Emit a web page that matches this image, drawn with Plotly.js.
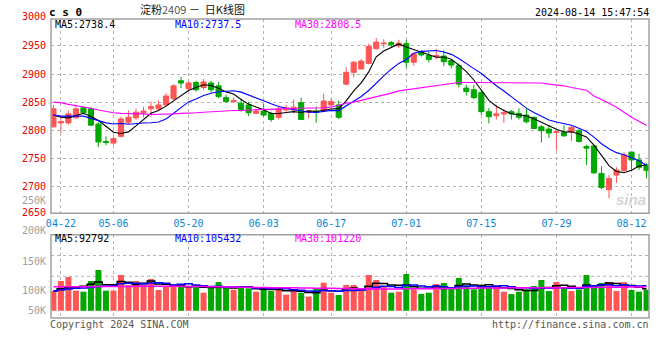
<!DOCTYPE html>
<html><head><meta charset="utf-8">
<script src="https://cdn.plot.ly/plotly-3.0.1.min.js"></script>
<style>html,body{margin:0;padding:0;background:#fff;}#chart{width:660px;height:360px;}</style>
</head><body><div id="chart"></div>
<script>
const dates = ['04-19','04-22','04-23','04-24','04-25','04-26','04-29','04-30','05-06','05-07',
'05-08','05-09','05-10','05-13','05-14','05-15','05-16','05-17','05-20','05-21',
'05-22','05-23','05-24','05-27','05-28','05-29','05-30','05-31','06-03','06-04',
'06-05','06-06','06-07','06-11','06-12','06-13','06-14','06-17','06-18','06-19',
'06-20','06-21','06-24','06-25','06-26','06-27','06-28','07-01','07-02','07-03',
'07-04','07-05','07-08','07-09','07-10','07-11','07-12','07-15','07-16','07-17',
'07-18','07-19','07-22','07-23','07-24','07-25','07-26','07-29','07-30','07-31',
'08-01','08-02','08-05','08-06','08-07','08-08','08-09','08-12','08-13','08-14'];

const open = [2806,2813,2813,2822,2840,2838,2811,2780,2777,2789,
2814,2822,2831,2838,2838,2845,2856,2888,2874,2885,
2876,2884,2879,2858,2851,2848,2845,2830,2834,2830,
2823,2836,2836,2849,2832,2834,2834,2845,2845,2882,
2903,2909,2919,2945,2954,2956,2950,2954,2921,2939,
2933,2931,2932,2924,2915,2875,2872,2867,2833,2826,
2829,2833,2830,2827,2823,2806,2802,2796,2796,2797,
2799,2771,2772,2723,2694,2720,2728,2761,2747,2738];
const high = [2845,2823,2835,2843,2841,2841,2814,2789,2789,2824,
2835,2839,2842,2851,2853,2866,2882,2895,2887,2888,
2891,2888,2886,2863,2858,2856,2851,2838,2847,2833,
2842,2845,2855,2858,2836,2842,2865,2856,2853,2912,
2923,2927,2954,2964,2962,2959,2961,2961,2937,2943,
2940,2945,2942,2926,2919,2881,2881,2872,2839,2845,
2837,2836,2839,2839,2824,2809,2809,2798,2809,2808,
2803,2774,2774,2736,2720,2734,2761,2761,2758,2741];
const low = [2805,2795,2810,2820,2828,2808,2770,2773,2774,2787,
2811,2818,2823,2824,2836,2843,2854,2875,2871,2869,
2872,2867,2857,2849,2849,2833,2825,2829,2824,2815,
2819,2833,2830,2818,2821,2813,2833,2841,2820,2880,
2894,2908,2917,2944,2946,2947,2947,2911,2915,2931,
2921,2926,2914,2910,2876,2862,2855,2827,2812,2819,
2813,2819,2819,2812,2802,2778,2786,2764,2788,2781,
2778,2738,2722,2695,2679,2706,2726,2730,2729,2714];
const close = [2838,2815,2829,2838,2831,2809,2779,2778,2785,2820,
2823,2832,2834,2842,2845,2861,2879,2884,2884,2872,
2886,2872,2860,2851,2853,2837,2831,2834,2827,2819,
2838,2840,2841,2819,2834,2832,2852,2851,2823,2903,
2921,2923,2949,2957,2955,2952,2955,2921,2936,2934,
2926,2933,2922,2916,2882,2869,2858,2833,2824,2829,
2831,2829,2823,2815,2803,2799,2795,2797,2790,2805,
2780,2768,2724,2698,2714,2729,2756,2747,2734,2728];

const ma5 = [2827,2823,2822,2826,2830.2,2824.4,2817.2,2807.0,2796.4,2794.2,
2797.0,2807.6,2818.8,2830.2,2835.2,2842.8,2852.2,2862.2,2870.6,2876.0,
2881.0,2879.6,2874.8,2868.2,2864.4,2854.6,2846.4,2841.2,2836.4,2829.6,
2829.8,2831.6,2833.0,2831.4,2834.4,2833.2,2835.6,2837.6,2838.4,2852.2,
2870.0,2884.2,2903.8,2930.6,2941.0,2947.2,2953.6,2948.0,2943.8,2939.6,
2934.4,2930.0,2930.2,2926.2,2915.8,2904.4,2889.4,2871.6,2853.2,2842.6,
2835.0,2829.2,2827.2,2825.4,2820.2,2813.8,2807.0,2801.8,2796.8,2797.2,
2793.4,2788.0,2773.4,2755.0,2736.8,2726.6,2724.2,2728.8,2736.0,2738.4];
const ma10 = [2827,2825,2825,2825,2825,2821,2817,2813,2811,2812.2,
2810.7,2812.4,2812.9,2813.3,2814.7,2819.9,2829.9,2840.5,2850.4,2855.6,
2861.9,2865.9,2868.5,2869.4,2870.2,2867.8,2863.0,2858.0,2852.3,2847.0,
2842.2,2839.0,2837.1,2833.9,2832.0,2831.5,2833.6,2835.3,2834.9,2843.3,
2851.6,2859.9,2870.7,2884.5,2896.6,2908.6,2918.9,2925.9,2937.2,2940.3,
2940.8,2941.8,2939.1,2935.0,2927.7,2919.4,2909.7,2900.9,2889.7,2879.2,
2869.7,2859.3,2849.4,2839.3,2831.4,2824.4,2818.1,2814.5,2811.1,2808.7,
2803.6,2797.5,2787.6,2775.9,2767.0,2760.0,2756.1,2751.1,2745.5,2737.5];
const ma30 = [2850,2849,2846,2844,2841,2839,2836,2833,2831,2830,
2830,2830,2829,2828,2828,2829,2829,2830,2830,2831,
2832,2833,2834,2834,2835,2835,2836,2836,2837,2837,
2838,2838,2839,2839,2839,2840,2840,2841,2845,2848,
2850,2853,2856,2859,2862,2866,2870,2872,2874,2875,
2877,2879,2881,2883,2885,2885,2885,2885,2885,2885,
2885,2885,2885,2885,2885,2884,2882,2881,2879,2876,
2874,2871,2861,2855,2848,2841,2832,2823,2816,2808.5];

const volume = [83700,126000,142900,85200,80900,126000,172600,85200,85200,151300,
109100,126000,109100,134400,88000,104900,102000,113300,102000,102000,
76600,96400,121700,96400,89300,104900,95000,80900,88000,83700,
100600,68200,83700,76600,59800,93600,118900,76600,66800,109100,
109100,83700,151300,130300,102000,76600,80900,155600,90800,71000,
76600,113300,117600,90800,138700,107700,90800,107700,104900,104900,
80900,71000,80900,90800,104900,130300,83700,121700,100600,83700,
90800,151300,104900,117600,121700,83700,121700,88000,80900,89300];
const volMa5 = [85000,93000,98000,99000,103700,112200,121500,110000,110000,124100,
120700,111400,116100,126000,113300,112500,107700,108500,102000,104800,
99200,98100,99700,98600,96100,101700,101500,93300,91600,90500,
89600,84300,84800,82600,77800,76400,86500,85100,83100,93000,
96100,89100,104000,116700,115300,108800,108200,109100,101200,95000,
95000,101500,93900,93900,107400,113600,109100,107100,110000,103200,
97800,93900,88500,85700,85700,95600,98100,106300,108200,104000,
96100,109600,106300,109700,117300,115800,109900,106500,99200,92792];
const volMa10 = [84000,88000,92000,95000,96000,99000,103000,104000,106000,113900,
116400,116400,113100,118000,118700,116600,109500,112300,114000,109100,
105800,102900,104100,100300,100500,100500,99800,96500,95100,93300,
95700,92900,89100,87100,84100,83000,85400,85000,82900,85400,
86200,87800,94600,99900,104100,102400,98600,106500,108900,105100,
101900,104800,101500,97500,101200,104300,105300,100500,101900,105300,
105700,101500,97800,97800,94500,96700,96000,97400,97000,94900,
95800,103900,106300,109000,110600,106000,109800,106400,104400,105432];
const volMa30 = [102000,102000,102000,102000,102000,102000,103000,103000,103000,103000,
103000,104000,104000,104000,104000,104000,104000,104000,103000,103000,
103000,102000,102000,101000,101000,100000,100000,99000,99000,98000,
98000,97000,97000,96000,96000,95000,95000,95000,94000,94000,
93000,93000,93000,92000,92000,92000,92000,93000,93000,93000,
93000,94000,94000,94000,95000,95000,95000,96000,96000,96000,
96000,97000,97000,97000,97000,98000,98000,98000,98000,99000,
99000,99000,99000,100000,100000,100000,100000,101000,101000,101220];

const tickDates = ['04-22','05-06','05-20','06-03','06-17','07-01','07-15','07-29','08-12'];
const priceTicks = [2700,2750,2800,2850,2900,2950];
const priceTickText = ['2700','2750','2800','2850','2900','2950'];

const RED = '#ff5555', GREEN = '#00a800';
const MONO = 'DejaVu Sans Mono';
const L = 51, R = 11, T = 19, B = 42, W = 660, H = 360;
const PW = W - L - R, PH = H - T - B;
const fx = p => (p - L) / PW;
const fy = p => (H - B - p) / PH;

const volColors = close.map((c, i) => c >= open[i] ? RED : GREEN);

const traces = [
  {type:'candlestick', x:dates, open:open, high:high, low:low, close:close,
   xaxis:'x', yaxis:'y', whiskerwidth:0, hoverinfo:'skip',
   increasing:{line:{color:RED,width:1}, fillcolor:RED},
   decreasing:{line:{color:GREEN,width:1}, fillcolor:GREEN}},
  {type:'scatter', mode:'lines', x:dates, y:ma5, xaxis:'x', yaxis:'y', line:{color:'#000000',width:1.1}, hoverinfo:'skip'},
  {type:'scatter', mode:'lines', x:dates, y:ma10, xaxis:'x', yaxis:'y', line:{color:'#0000ff',width:1.1}, hoverinfo:'skip'},
  {type:'scatter', mode:'lines', x:dates, y:ma30, xaxis:'x', yaxis:'y', line:{color:'#ff00ff',width:1.1}, hoverinfo:'skip'},
  {type:'bar', x:dates, y:volume, xaxis:'x2', yaxis:'y2', width:0.8,
   marker:{color:volColors, line:{width:0}}, hoverinfo:'skip'},
  {type:'scatter', mode:'lines', x:dates, y:volMa5, xaxis:'x2', yaxis:'y2', line:{color:'#000000',width:1.5,shape:'hvh'}, hoverinfo:'skip'},
  {type:'scatter', mode:'lines', x:dates, y:volMa10, xaxis:'x2', yaxis:'y2', line:{color:'#0000ff',width:1.5,shape:'hvh'}, hoverinfo:'skip'},
  {type:'scatter', mode:'lines', x:dates, y:volMa30, xaxis:'x2', yaxis:'y2', line:{color:'#ff00ff',width:1.5,shape:'hvh'}, hoverinfo:'skip'}
];

const mainBottom = fy(213.3), volTop = fy(234.7);
const gridC = '#b4b4b4';

function ann(text, x, y, xanchor, color, size, family) {
  return {text:text, x:fx(x), y:fy(y), xref:'paper', yref:'paper', xanchor:xanchor, yanchor:'middle',
    showarrow:false, borderpad:0, font:{family:family||MONO, size:size||10, color:color||'#000'}};
}

const annotations = [
  ann('<b>c s 0</b>', 48, 12, 'left', '#000', 11),
  ann('淀粉<span style="color:#555">2409</span> －  日K线图', 139, 9.5, 'left', '#111', 11, 'Noto Sans CJK SC'),
  ann('2024-08-14 15:47:54', 650, 12.5, 'right', '#000', 10),
  ann('MA5:2738.4', 54, 24.2, 'left', '#000', 10),
  ann('MA10:2737.5', 174, 24.2, 'left', '#0000ff', 10),
  ann('MA30:2808.5', 294, 24.2, 'left', '#ff00ff', 10),
  ann('MA5:92792', 54, 238.8, 'left', '#000', 10),
  ann('MA10:105432', 174, 238.8, 'left', '#0000ff', 10),
  ann('MA30:101220', 294, 238.8, 'left', '#ff00ff', 10),
  ann('3000', 46.5, 16, 'right', '#e60000', 10),
  ann('2650', 46.5, 212.7, 'right', '#e60000', 10),
  ann('250K', 46.5, 200.7, 'right', '#a0a0a0', 10),
  ann('200K', 46.5, 230.7, 'right', '#a0a0a0', 10),
  ann('150K', 46.5, 261, 'right', '#a0a0a0', 10),
  ann('100K', 46.5, 290.7, 'right', '#a0a0a0', 10),
  ann('50K', 46.5, 310.7, 'right', '#a0a0a0', 10),
  ann('Copyright 2024 SINA.COM', 49, 324.5, 'left', '#555', 10),
  ann('http://finance.sina.com.cn', 650, 324.5, 'right', '#555', 10),
  ann('<b><i>sina</i></b>', 631, 199, 'center', '#d4d4d4', 15, 'Liberation Sans')
];

const shapes = [
  {type:'line', xref:'paper', yref:'paper', x0:0, x1:1, y0:fy(255.5), y1:fy(255.5), line:{color:gridC, width:1, dash:'dot'}, layer:'below'},
  {type:'line', xref:'paper', yref:'paper', x0:0, x1:1, y0:fy(276.3), y1:fy(276.3), line:{color:gridC, width:1, dash:'dot'}, layer:'below'},
  {type:'line', xref:'paper', yref:'paper', x0:0, x1:1, y0:fy(297.1), y1:fy(297.1), line:{color:gridC, width:1, dash:'dot'}, layer:'below'},
  {type:'rect', xref:'paper', yref:'paper', x0:0, x1:1, y0:mainBottom, y1:1, line:{color:'#a0a0a0', width:1.5}},
  {type:'rect', xref:'paper', yref:'paper', x0:0, x1:1, y0:0, y1:volTop, line:{color:'#a0a0a0', width:1.5}}
];

const layout = {
  width:W, height:H, margin:{l:L, r:R, t:T, b:B, pad:0},
  paper_bgcolor:'#fff', plot_bgcolor:'#fff', showlegend:false, hovermode:false,
  boxgap:0.32, boxgroupgap:0,
  bargap:0.2,
  xaxis:{type:'category', domain:[0,1], anchor:'y', range:[-0.32, 79.33],
    tickmode:'array', tickvals:tickDates, ticktext:tickDates, ticks:'', ticklabelstandoff:3,
    tickfont:{family:MONO, size:10, color:'#0a84d8'},
    showgrid:true, gridcolor:gridC, griddash:'dot', gridwidth:1,
    showline:false, zeroline:false, rangeslider:{visible:false}, fixedrange:true},
  yaxis:{domain:[mainBottom, 1], anchor:'x', range:[2652, 2998],
    tickmode:'array', tickvals:priceTicks, ticktext:priceTickText, ticks:'', ticklabelstandoff:4,
    tickfont:{family:MONO, size:10, color:'#e60000'},
    showgrid:true, gridcolor:gridC, griddash:'dot', gridwidth:1,
    showline:false, zeroline:false, fixedrange:true},
  xaxis2:{type:'category', domain:[0,1], anchor:'y2', matches:'x', range:[-0.32, 79.33],
    tickmode:'array', tickvals:tickDates, ticks:'', showticklabels:false,
    showgrid:true, gridcolor:gridC, griddash:'dot', gridwidth:1,
    showline:false, zeroline:false, fixedrange:true},
  yaxis2:{domain:[0, volTop], anchor:'x2', range:[-30500, 321900],
    showticklabels:false, ticks:'', showgrid:false, showline:false, zeroline:false, fixedrange:true},
  annotations:annotations,
  shapes:shapes
};

Plotly.newPlot('chart', traces, layout, {staticPlot:true, displayModeBar:false});
</script>
</body></html>
